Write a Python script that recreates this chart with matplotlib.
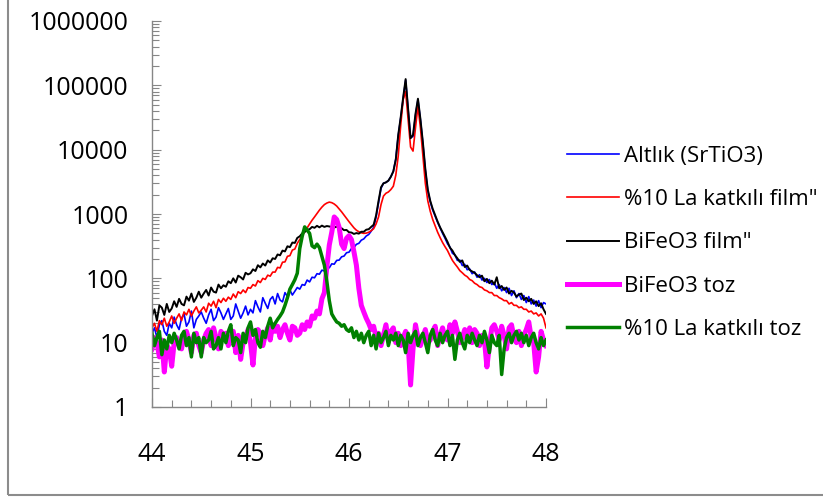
import numpy as np
import matplotlib
matplotlib.use("Agg")
import matplotlib.pyplot as plt
from matplotlib.patches import Rectangle
from matplotlib.ticker import LogLocator, FuncFormatter, MultipleLocator

plt.rcParams['font.family'] = ['Open Sans', 'DejaVu Sans']

# 2-theta grid, 0.025 deg step from 44 to 48
two_theta = np.linspace(44, 48, 161)

labels = ["Altlık (SrTiO3)", "%10 La katkılı film\"", "BiFeO3 film\"",
          "BiFeO3 toz", "%10 La katkılı toz"]

# intensities, one row = 0.25 deg
altlik = [
    14, 17, 12, 19, 22, 15, 13, 20, 17, 25,
    19, 16, 24, 28, 18, 21, 31, 17, 23, 26,
    30, 24, 20, 27, 33, 22, 25, 35, 29, 23,
    28, 34, 23, 26, 40, 31, 24, 29, 37, 27,
    33, 29, 45, 36, 30, 50, 41, 34, 47, 52,
    40, 58, 46, 43, 60, 52, 66, 55, 63, 72,
    68, 80, 78, 94, 88, 104, 102, 118, 116, 134,
    130, 148, 146, 168, 166, 190, 192, 216, 222, 250,
    255, 290, 300, 338, 350, 392, 410, 455, 480, 540,
    620, 900, 1500, 2500, 3000, 3100, 3300, 3800, 4600, 7200,
    16500, 31000, 62000, 120000, 42000, 15500, 16000, 34000, 60000, 29000,
    12500, 4800, 2300, 1550, 1150, 920, 740, 610, 500, 420,
    345, 305, 245, 232, 190, 192, 158, 165, 136, 140,
    118, 126, 104, 114, 94, 100, 86, 96, 80, 86,
    70, 80, 64, 72, 60, 70, 54, 64, 50, 58,
    47, 54, 42, 52, 40, 46, 37, 45, 35, 42,
    40]

la_film = [
    17, 20, 15, 22, 19, 24, 18, 21, 26, 20,
    24, 28, 22, 30, 27, 33, 26, 31, 36, 29,
    32, 36, 30, 41, 37, 44, 35, 47, 42, 49,
    44, 51, 47, 57, 50, 62, 58, 66, 60, 72,
    70, 80, 76, 92, 86, 100, 96, 112, 108, 125,
    125, 148, 145, 178, 180, 220, 225, 275, 285, 350,
    400, 460, 530, 610, 700, 800, 900, 1020, 1150, 1280,
    1400, 1480, 1530, 1500, 1430, 1330, 1200, 1080, 960, 850,
    760, 680, 610, 560, 530, 510, 500, 505, 520, 550,
    590, 700, 900, 1400, 1900, 2100, 2200, 2400, 2700, 4000,
    8000, 24000, 60000, 80000, 30000, 11000, 9500, 22000, 47000, 22000,
    8000, 3000, 1600, 1100, 820, 650, 520, 430, 360, 310,
    270, 225, 190, 168, 150, 132, 122, 112, 106, 96,
    92, 84, 80, 74, 72, 66, 64, 60, 60, 54,
    54, 50, 48, 45, 45, 40, 42, 38, 38, 35,
    36, 33, 33, 30, 31, 28, 29, 26, 28, 24,
    17]

bfo_film = [
    26, 33, 22, 38, 35, 27, 40, 30, 34, 44,
    36, 48, 40, 38, 52, 45, 58, 43, 50, 62,
    50, 58, 66, 54, 72, 62, 60, 80, 70, 78,
    74, 90, 84, 100, 86, 110, 104, 96, 122, 115,
    120, 138, 130, 160, 148, 170, 158, 190, 176, 205,
    200, 235, 228, 270, 262, 315, 305, 360, 355, 425,
    450, 500, 525, 570, 580, 630, 610, 655, 620, 660,
    630, 650, 640, 625, 615, 640, 595, 600, 560, 565,
    520, 515, 490, 505, 495, 530, 530, 570, 580, 630,
    680, 950, 1600, 2600, 3000, 3100, 3300, 3800, 4600, 7000,
    17000, 32000, 65000, 125000, 43000, 15000, 17000, 36000, 62000, 30000,
    13000, 5000, 2400, 1600, 1200, 950, 760, 620, 520, 440,
    370, 300, 270, 230, 205, 180, 190, 150, 158, 135,
    128, 122, 112, 104, 110, 90, 98, 84, 92, 80,
    104, 70, 76, 66, 72, 58, 64, 60, 52, 56,
    58, 46, 50, 44, 48, 40, 44, 37, 41, 33,
    28]

bfo_toz = [
    8, 12, 10, 6, 11, 3.5, 9, 8, 4.3, 10,
    12, 9, 8, 13, 15, 11, 7, 13, 14, 9,
    7, 11, 14, 16, 9, 17, 12, 8, 15, 13,
    14, 9, 12, 15, 7, 13, 5.5, 10, 12, 16,
    10, 4.5, 12, 16, 14, 9, 13, 17, 11, 19,
    15, 18, 12, 16, 19, 14, 11, 18, 17, 13,
    14, 19, 16, 21, 18, 26, 24, 31, 28, 48,
    60, 150, 330, 520, 900, 820, 620, 340, 290, 420,
    460, 400, 260, 160, 70, 38, 30, 24, 20, 16,
    18, 12, 14, 9, 13, 19, 11, 15, 17, 10,
    14, 9, 12, 15, 10, 2.2, 8, 19, 12, 9,
    12, 16, 10, 11, 15, 18, 9, 13, 17, 12,
    11, 19, 14, 21, 15, 10, 12, 16, 11, 17,
    10, 16, 14, 9, 13, 11, 4.2, 9, 17, 19,
    15, 11, 18, 13, 8, 17, 19, 12, 10, 15,
    9, 13, 16, 21, 12, 10, 3.5, 6, 15, 11,
    9]

la_toz = [
    14, 9, 12, 15, 6.5, 11, 8, 13, 10, 14,
    11, 8, 13, 15, 9, 12, 6, 14, 10, 12,
    6, 12, 10, 11, 15, 8, 9, 12, 8, 14,
    10, 15, 19, 9, 12, 11, 7, 14, 10, 17,
    21, 13, 16, 10, 8.5, 15, 12, 18, 24, 17,
    20, 23, 26, 30, 38, 50, 68, 80, 95, 120,
    290, 450, 630, 560, 500, 320, 300, 340, 300, 220,
    160, 90, 45, 28, 24, 21, 20, 18, 19, 16,
    15, 17, 12, 15, 11, 14, 10, 13, 15, 9,
    13, 8, 14, 10, 12, 15, 9, 13, 11, 14,
    9, 13, 11, 7, 14, 10, 13, 15, 9, 12,
    14, 10, 7, 13, 16, 11, 9, 14, 10, 13,
    15, 9, 13, 5.5, 11, 14, 10, 8, 13, 10,
    14, 11, 9, 13, 10, 15, 11, 7, 13, 10,
    9, 13, 3.2, 8, 12, 14, 10, 13, 15, 11,
    14, 10, 13, 9, 12, 14, 10, 8, 12, 9,
    11]

series = [altlik, la_film, bfo_film, bfo_toz, la_toz]
colors = ["#0000ff", "#ff0000", "#000000", "#ff00ff", "#008000"]
widths = [1.2, 1.2, 1.4, 3.6, 2.5]

fig = plt.figure(figsize=(8.23, 4.99), dpi=100)
ax = fig.add_axes([152 / 823, 1 - 407 / 499, (546 - 152) / 823, (407 - 21) / 499])

for y, c, lw, lab in zip(series, colors, widths, labels):
    ax.plot(two_theta, y, color=c, lw=lw, label=lab)

ax.set_yscale("log")
ax.set_ylim(1, 1e6)
ax.set_xlim(44, 48)
ax.yaxis.set_major_locator(LogLocator(base=10))
ax.yaxis.set_minor_locator(LogLocator(base=10, subs=np.arange(2, 10)))
ax.yaxis.set_major_formatter(FuncFormatter(lambda v, _: f"{v:.0f}"))
ax.xaxis.set_major_locator(MultipleLocator(1))
ax.xaxis.set_minor_locator(MultipleLocator(0.2))

grey = "#868686"
for s in ["top", "right"]:
    ax.spines[s].set_visible(False)
for s in ["left", "bottom"]:
    ax.spines[s].set_color(grey)
    ax.spines[s].set_linewidth(1.0)

ax.tick_params(which="both", direction="in", color=grey, width=0.8)
ax.tick_params(which="major", length=6.5)
ax.tick_params(which="minor", length=5)
ax.tick_params(axis="y", which="major", labelsize=18, pad=17)
ax.tick_params(axis="x", which="major", labelsize=18, pad=25)

leg = fig.legend(loc="upper left", bbox_to_anchor=(567 / 823, 1 - 146 / 499),
                 frameon=False, fontsize=16, handlelength=2.35,
                 handletextpad=0.2, labelspacing=1.0, borderpad=0,
                 borderaxespad=0)

# outer chart border (only left and bottom edges fall inside the image)
fig.patches.append(Rectangle((8 / 823, 4 / 499), 1.2, 1.2, transform=fig.transFigure,
                             fill=False, edgecolor="#8c8c8c", lw=1.5))

fig.savefig("out.png", dpi=100)
